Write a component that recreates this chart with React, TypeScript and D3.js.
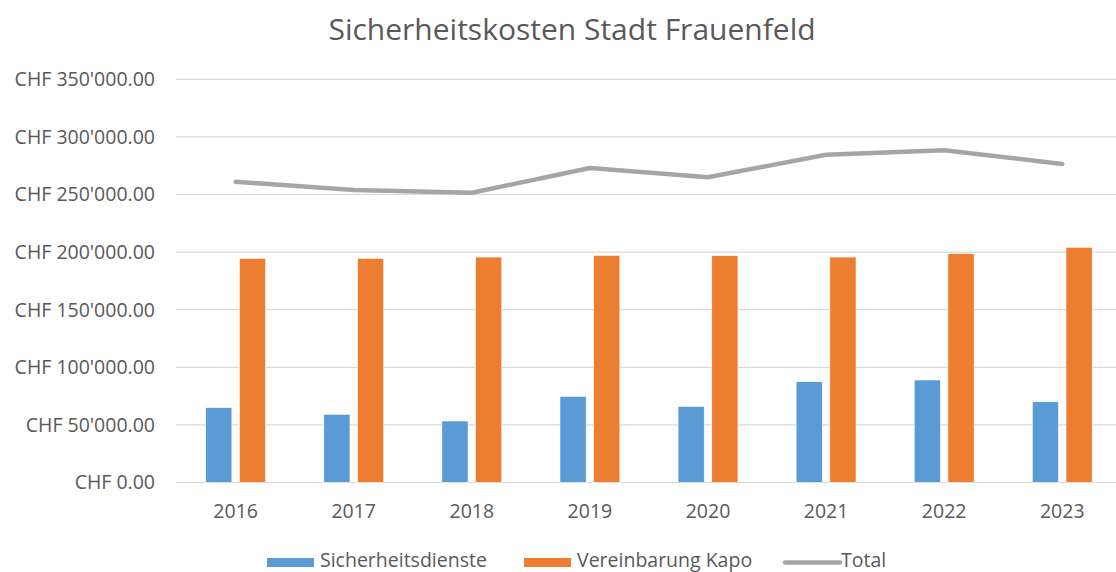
import React from "react";
import * as d3 from "d3";

const years = ["2016", "2017", "2018", "2019", "2020", "2021", "2022", "2023"];
const sicherheitsdienste = [65000, 59200, 53400, 74800, 66100, 87500, 89000, 70100];
const vereinbarungKapo = [194600, 194600, 195700, 197200, 196900, 195700, 198600, 204200];
const total = [261000, 254000, 251500, 273000, 265000, 284500, 288500, 276500];
const yTicks = [0, 50000, 100000, 150000, 200000, 250000, 300000, 350000];
const seriesNames = ["Sicherheitsdienste", "Vereinbarung Kapo", "Total"];

const W = 1116;
const H = 572;
const FONT = "'Open Sans', 'Noto Sans', sans-serif";
const TEXT = "#595959";
const COLORS = ["#5B9BD5", "#ED7D31", "#A5A5A5"];

function fmtCHF(v: number): string {
  const fixed = v.toFixed(2);
  const [int, dec] = fixed.split(".");
  const withSep = int.replace(/\B(?=(\d{3})+(?!\d))/g, "'");
  return `CHF ${withSep}.${dec}`;
}

export default function App() {
  const x0 = d3.scaleBand<string>().domain(years).range([176.6, 1121.3]).paddingInner(0).paddingOuter(0);
  const x1 = d3
    .scaleBand<string>()
    .domain(["a", "b"])
    .range([0, x0.bandwidth()])
    .paddingInner(0.2226)
    .paddingOuter(0.863);
  const y = d3.scaleLinear().domain([0, 350000]).range([482.5, 79.3]);

  const line = d3
    .line<number>()
    .x((_, i) => (x0(years[i]) as number) + x0.bandwidth() / 2)
    .y((d) => y(d));

  const legendItems = [
    { name: seriesNames[0], x: 267, type: "rect", color: COLORS[0] },
    { name: seriesNames[1], x: 524, type: "rect", color: COLORS[1] },
    { name: seriesNames[2], x: 785, type: "line", color: COLORS[2] },
  ];

  return (
    <svg
      width={W}
      height={H}
      style={{ position: "absolute", left: 0, top: 0, background: "#fff" }}
      fontFamily={FONT}
    >
      <rect x={0} y={0} width={W} height={H} fill="#fff" />
      <text x={572} y={40} textAnchor="middle" fontSize={30} fill={TEXT}>
        Sicherheitskosten Stadt Frauenfeld
      </text>

      {yTicks.map((t) => (
        <g key={t}>
          <line x1={175.6} x2={W} y1={y(t)} y2={y(t)} stroke="#D9D9D9" strokeWidth={1.2} />
          <text
            x={155}
            y={y(t)}
            dy="0.35em"
            textAnchor="end"
            fontSize={19.5}
            fill={TEXT}
          >
            {fmtCHF(t)}
          </text>
        </g>
      ))}

      {years.map((yr, i) => {
        const bx = x0(yr) as number;
        return (
          <g key={yr}>
            <rect
              x={bx + (x1("a") as number)}
              y={y(sicherheitsdienste[i])}
              width={x1.bandwidth()}
              height={y(0) - y(sicherheitsdienste[i])}
              fill={COLORS[0]}
              stroke="#fff"
              strokeWidth={0.6}
            />
            <rect
              x={bx + (x1("b") as number)}
              y={y(vereinbarungKapo[i])}
              width={x1.bandwidth()}
              height={y(0) - y(vereinbarungKapo[i])}
              fill={COLORS[1]}
              stroke="#fff"
              strokeWidth={0.6}
            />
            <text
              x={bx + x0.bandwidth() / 2}
              y={518}
              textAnchor="middle"
              fontSize={19.5}
              fill={TEXT}
            >
              {yr}
            </text>
          </g>
        );
      })}

      <path
        d={line(total) || ""}
        fill="none"
        stroke={COLORS[2]}
        strokeWidth={4.5}
        strokeLinecap="round"
        strokeLinejoin="round"
      />

      {legendItems.map((it) => (
        <g key={it.name}>
          {it.type === "rect" ? (
            <rect x={it.x} y={558} width={47} height={9} fill={it.color} />
          ) : (
            <line
              x1={it.x}
              x2={it.x + 55}
              y1={562.5}
              y2={562.5}
              stroke={it.color}
              strokeWidth={4.5}
              strokeLinecap="round"
            />
          )}
          <text
            x={it.type === "rect" ? it.x + 53 : it.x + 56}
            y={567}
            fontSize={19.5}
            fill={TEXT}
          >
            {it.name}
          </text>
        </g>
      ))}
    </svg>
  );
}
